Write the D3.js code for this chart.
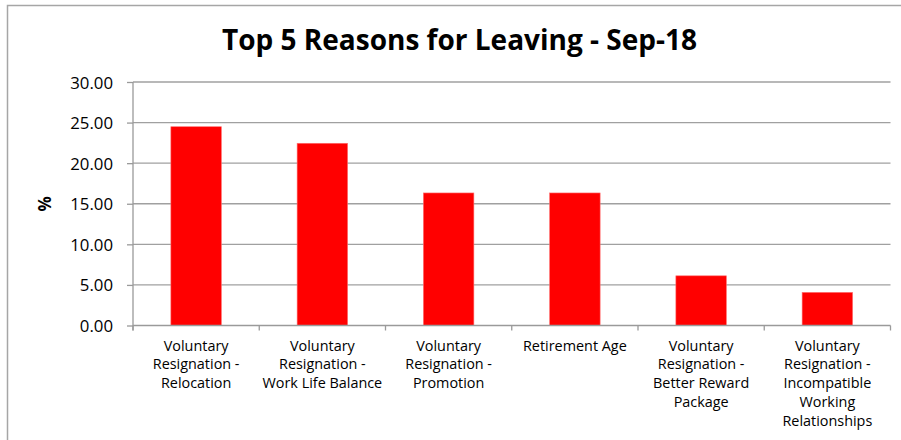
<!DOCTYPE html>
<html>
<head>
<meta charset="utf-8">
<script src="https://cdn.jsdelivr.net/npm/d3@7"></script>
<style>
  html, body { margin: 0; padding: 0; background: #fff; }
  svg { display: block; }
  text { font-family: "Open Sans", "Noto Sans", sans-serif; fill: #000; }
</style>
</head>
<body>
<svg id="chart" width="901" height="440"></svg>
<script>
// Reasons for leaving, share of leavers (%)
const categories = [
  "Voluntary Resignation - Relocation",
  "Voluntary Resignation - Work Life Balance",
  "Voluntary Resignation - Promotion",
  "Retirement Age",
  "Voluntary Resignation - Better Reward Package",
  "Voluntary Resignation - Incompatible Working Relationships"
];
// wrapped lines for the category axis
const categoryLines = [
  ["Voluntary", "Resignation -", "Relocation"],
  ["Voluntary", "Resignation -", "Work Life Balance"],
  ["Voluntary", "Resignation -", "Promotion"],
  ["Retirement Age"],
  ["Voluntary", "Resignation -", "Better Reward", "Package"],
  ["Voluntary", "Resignation -", "Incompatible", "Working", "Relationships"]
];
const values = [24.49, 22.45, 16.33, 16.33, 6.12, 4.08];
const yTicks = [0, 5, 10, 15, 20, 25, 30];
const title = "Top 5 Reasons for Leaving - Sep-18";
const yLabel = "%";

const svg = d3.select("#chart");
const W = 901, H = 440;
const margin = { left: 133, right: 10, top: 82, bottom: 114 };
const plotW = 890.5 - margin.left;
const plotH = 325.5 - margin.top;

// chart frame
svg.append("rect")
  .attr("x", 7.5).attr("y", 5.5)
  .attr("width", W).attr("height", H)
  .attr("fill", "#fff")
  .attr("stroke", "#a6a6a6").attr("stroke-width", 1.5);

const g = svg.append("g").attr("transform", `translate(${margin.left},${margin.top})`);

const x = d3.scaleBand().domain(categories).range([0, plotW]).paddingInner(0.6).paddingOuter(0.3);
const xTick = d3.scaleBand().domain(categories).range([0, plotW]);
const y = d3.scaleLinear().domain([0, 30]).range([plotH, 0]);

// horizontal gridlines
g.append("g").selectAll("line").data(yTicks.filter(d => d > 0)).join("line")
  .attr("x1", 0).attr("x2", plotW)
  .attr("y1", d => y(d)).attr("y2", d => y(d))
  .attr("stroke", "#a0a0a0").attr("stroke-width", 1.3);

// bars
g.append("g").selectAll("rect").data(values).join("rect")
  .attr("x", (d, i) => x(categories[i]))
  .attr("y", d => y(d))
  .attr("width", x.bandwidth())
  .attr("height", d => plotH - y(d))
  .attr("fill", "#ff0000")
  .attr("stroke", "#ff7070").attr("stroke-width", 0.6);

// y axis
const yAxis = g.append("g")
  .call(d3.axisLeft(y).tickValues(yTicks).tickFormat(d3.format(".2f")).tickSize(6).tickPadding(14));
yAxis.select(".domain").attr("stroke", "#9a9a9a").attr("stroke-width", 1.3)
  .attr("d", `M0,0V${plotH + 5}`);
yAxis.selectAll(".tick line").attr("stroke", "#9a9a9a").attr("stroke-width", 1.3);
yAxis.selectAll(".tick text").style("font-size", "16.8px").style("font-family", "Open Sans").attr("fill", "#000").attr("dy", "0.36em");

// x axis baseline and tick marks at band boundaries
g.append("line")
  .attr("x1", 0).attr("x2", plotW).attr("y1", plotH).attr("y2", plotH)
  .attr("stroke", "#9a9a9a").attr("stroke-width", 1.3);
const boundaries = categories.map(c => xTick(c)).concat([plotW]);
g.append("g").selectAll("line").data(boundaries).join("line")
  .attr("x1", d => d).attr("x2", d => d)
  .attr("y1", plotH).attr("y2", plotH + 5)
  .attr("stroke", "#9a9a9a").attr("stroke-width", 1.3);

// category labels
const labels = g.append("g").selectAll("text").data(categories).join("text")
  .attr("text-anchor", "middle")
  .attr("transform", c => `translate(${xTick(c) + xTick.bandwidth() / 2},${plotH + 25})`)
  .style("font-size", "14.4px");
labels.each(function (c, i) {
  d3.select(this).selectAll("tspan").data(categoryLines[i]).join("tspan")
    .attr("x", 0).attr("dy", (d, j) => j === 0 ? 0 : 18.8)
    .text(d => d);
});

// y axis title
svg.append("text")
  .attr("transform", `translate(51,${margin.top + y(15)}) rotate(-90)`)
  .attr("text-anchor", "middle")
  .style("font-size", "17px").style("font-weight", "bold")
  .text(yLabel);

// chart title
svg.append("text")
  .attr("x", 459.5).attr("y", 50)
  .attr("text-anchor", "middle")
  .style("font-size", "28px").style("font-weight", "bold")
  .text(title);
</script>
</body>
</html>
